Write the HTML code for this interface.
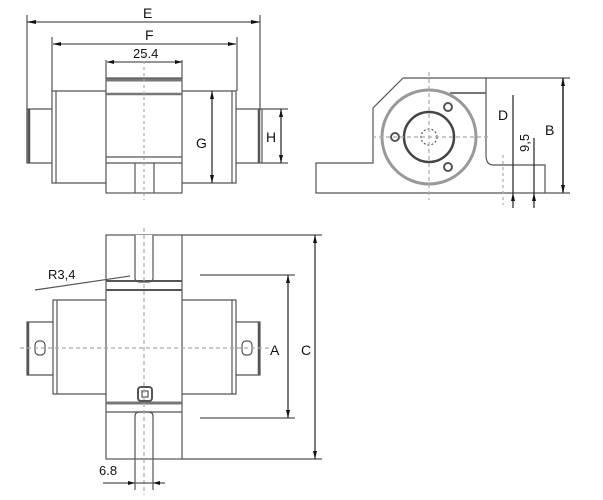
<!DOCTYPE html>
<html><head><style>body{margin:0;background:#fff}svg{display:block}text{font-family:"Liberation Sans",sans-serif;fill:#111}</style></head><body>
<svg width="603" height="500" viewBox="0 0 603 500" xmlns="http://www.w3.org/2000/svg">
<g stroke="#555" fill="none" stroke-width="1.2">
<!-- TOP VIEW -->
<line x1="27" y1="22" x2="260" y2="22"/><line x1="27" y1="15" x2="27" y2="163"/><line x1="260" y1="15" x2="260" y2="110"/>
<line x1="53" y1="44" x2="236" y2="44"/><line x1="52" y1="37" x2="52" y2="91"/><line x1="237" y1="37" x2="237" y2="91"/>
<line x1="107" y1="62" x2="182" y2="62"/><line x1="106" y1="60" x2="106" y2="78"/><line x1="182" y1="60" x2="182" y2="78"/>
<rect x="106" y="78" width="76" height="115"/>
<line x1="106" y1="80" x2="182" y2="80" stroke-width="3" stroke="#777"/>
<line x1="106" y1="94" x2="182" y2="94" stroke-width="2.5" stroke="#777"/>
<line x1="106" y1="157" x2="182" y2="157"/><line x1="106" y1="163" x2="182" y2="163"/>
<line x1="135" y1="163" x2="135" y2="193"/><line x1="154" y1="163" x2="154" y2="193"/>
<path d="M106 91H52V183H106M182 91H236V183H182"/><line x1="56" y1="91" x2="56" y2="183"/><line x1="232" y1="91" x2="232" y2="183"/>
<path d="M52 109H27V163H52M236 109H262V163H236"/>
<line x1="29" y1="109" x2="29" y2="163" stroke-width="2.5"/><line x1="259" y1="109" x2="259" y2="163" stroke-width="2.5"/>
<line x1="212" y1="91" x2="212" y2="183" stroke="#222"/>
<path d="M262 109H288M262 163H288"/><line x1="281" y1="109" x2="281" y2="163" stroke="#222"/>
<line x1="144" y1="55" x2="144" y2="200" stroke-dasharray="3 3" stroke="#aaa"/>
<!-- SIDE VIEW -->
<path d="M403 78H570M403 78L373 108V163H316V193H545V165H493Q486 165 486 155V78"/>
<line x1="450" y1="93" x2="486" y2="93" stroke-width="2" stroke="#777"/>
<circle cx="429" cy="137" r="47" stroke-width="3" stroke="#999"/>
<circle cx="429" cy="137" r="25" stroke-width="2.5" stroke="#444"/>
<circle cx="429" cy="137" r="8" stroke-dasharray="2 2"/>
<circle cx="448" cy="107" r="4" stroke-width="2"/><circle cx="395" cy="137" r="4" stroke-width="2"/><circle cx="448" cy="167" r="4" stroke-width="2"/>
<line x1="372" y1="137" x2="490" y2="137" stroke-dasharray="4 3" stroke="#aaa"/><line x1="429" y1="72" x2="429" y2="200" stroke-dasharray="4 3" stroke="#aaa"/>
<line x1="563" y1="78" x2="563" y2="193" stroke="#222" stroke-width="1.5"/><line x1="545" y1="193" x2="570" y2="193"/>
<line x1="513" y1="95" x2="513" y2="208" stroke="#222"/><line x1="534" y1="138" x2="534" y2="208" stroke="#222"/>
<line x1="503" y1="155" x2="503" y2="205" stroke-dasharray="3 3" stroke="#aaa"/>
<!-- BOTTOM VIEW -->
<rect x="106" y="235" width="76" height="224"/>
<path d="M135 235V278Q135 282 140 282H148Q153 282 153 278V235" fill="#fff"/>
<line x1="106" y1="281" x2="182" y2="281" stroke-width="2"/><line x1="106" y1="290" x2="182" y2="290" stroke-width="2"/>
<line x1="106" y1="403" x2="182" y2="403" stroke-width="3" stroke="#777"/><line x1="106" y1="412" x2="182" y2="412"/>
<path d="M135 490V416Q135 412 140 412H148Q153 412 153 416V490"/>
<path d="M106 300H53V394H106M182 300H236V394H182"/><line x1="57" y1="300" x2="57" y2="394"/><line x1="232" y1="300" x2="232" y2="394"/>
<path d="M53 322H27V375H53M236 322H260V375H236"/>
<line x1="28" y1="322" x2="28" y2="375" stroke-width="2.5"/><line x1="259" y1="322" x2="259" y2="375" stroke-width="2.5"/>
<rect x="35" y="341" width="10" height="14" rx="4"/><rect x="242" y="341" width="10" height="14" rx="4"/>
<rect x="138" y="387" width="14" height="14" rx="3" stroke-width="2"/><rect x="142" y="391" width="6" height="6"/>
<line x1="20" y1="348" x2="270" y2="348" stroke-dasharray="4 3" stroke="#aaa"/><line x1="144" y1="228" x2="144" y2="495" stroke-dasharray="4 3" stroke="#aaa"/>
<path d="M182 235H322M182 459H322M200 275H295M200 418H295"/>
<line x1="288" y1="275" x2="288" y2="418" stroke="#222"/><line x1="315" y1="235" x2="315" y2="459" stroke="#222"/>
<line x1="103" y1="483" x2="165" y2="483"/>
<line x1="35" y1="290" x2="130" y2="276"/>
</g>
<g fill="#111">
<polygon points="27,22 36,20 36,24"/><polygon points="260,22 251,20 251,24"/>
<polygon points="53,44 61,42 61,46"/><polygon points="236,44 228,42 228,46"/>
<polygon points="107,62 114,60 114,64"/><polygon points="182,62 175,60 175,64"/>
<polygon points="212,91 210,99 214,99"/><polygon points="212,183 210,175 214,175"/>
<polygon points="281,109 279,117 283,117"/><polygon points="281,163 279,155 283,155"/>
<polygon points="563,78 561,86 565,86"/><polygon points="563,193 561,185 565,185"/>
<polygon points="288,275 286,283 290,283"/><polygon points="288,418 286,410 290,410"/>
<polygon points="315,235 313,243 317,243"/><polygon points="315,459 313,451 317,451"/>
<polygon points="513,193 511,201 515,201"/><polygon points="534,193 532,201 536,201"/>
<polygon points="135,483 128,481 128,485"/><polygon points="153,483 160,481 160,485"/>
</g>
<g font-size="14">
<text x="143" y="18">E</text><text x="145" y="40">F</text><text x="133" y="58" font-size="13">25.4</text>
<text x="196" y="148">G</text><text x="266" y="142">H</text>
<text x="498" y="120">D</text><text x="545" y="135">B</text>
<text transform="translate(529,152) rotate(-90)" font-size="13">9,5</text>
<text x="270" y="355">A</text><text x="301" y="355">C</text>
<text x="48" y="279" font-size="13">R3,4</text><text x="99" y="475" font-size="13">6.8</text>
</g>
</svg>
</body></html>
